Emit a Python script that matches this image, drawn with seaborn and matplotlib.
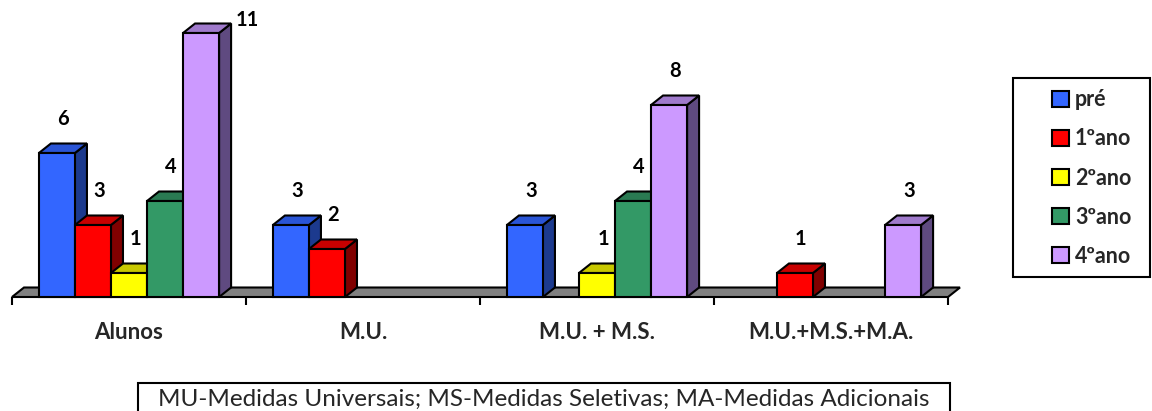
import numpy as np
import pandas as pd
import matplotlib
matplotlib.use("Agg")
import matplotlib.pyplot as plt
from matplotlib.patches import Polygon, Rectangle, Patch
import seaborn as sns

# Number of students per group and school year
categories = ["Alunos", "M.U.", "M.U. + M.S.", "M.U.+M.S.+M.A."]
series = ["pré", "1ºano", "2ºano", "3ºano", "4ºano"]
pre = [6, 3, 3, 0]
ano1 = [3, 2, 0, 1]
ano2 = [1, 0, 1, 0]
ano3 = [4, 0, 4, 0]
ano4 = [11, 0, 8, 3]
caption = "MU-Medidas Universais; MS-Medidas Seletivas; MA-Medidas Adicionais"

front_colors = ["#3366FF", "#FF0000", "#FFFF00", "#339966", "#CC99FF"]
side_colors = ["#1C3A8E", "#800000", "#808000", "#1F5C3D", "#5F4A80"]
top_colors = ["#2A55D6", "#C80000", "#C8C800", "#2A7A52", "#A07ACC"]

rows = []
for name, vals in zip(series, [pre, ano1, ano2, ano3, ano4]):
    for cat, v in zip(categories, vals):
        rows.append({"grupo": cat, "ano": name, "valor": v})
df = pd.DataFrame(rows)

sns.set_theme(style="white")
plt.rcParams["font.family"] = ["Lato", "DejaVu Sans"]

W, H = 1152, 411
fig = plt.figure(figsize=(W / 100, H / 100), dpi=100)
# axes: floor front edge from x=12 to 948 px, 24 px per unit
ax = fig.add_axes([12 / W, (H - 297) / H, 936 / W, 288 / H])

sns.barplot(data=df, x="grupo", y="valor", hue="ano", order=categories,
            hue_order=series, palette=front_colors, saturation=1,
            width=0.77, edgecolor="black", linewidth=1.5, legend=False, ax=ax)

ax.set_xlim(-0.5, 3.5)
ax.set_ylim(0, 12)

# depth offset of the 3D look, converted from pixels to data units
px_x = 936 / 4.0
px_y = 288 / 12.0
dx = 12 / px_x
dy = 9.5 / px_y

# floor slab
floor = Polygon([(-0.5, 0), (3.5, 0), (3.5 + dx, dy), (-0.5 + dx, dy)],
                closed=True, facecolor="#808080", edgecolor="black",
                linewidth=1.5, zorder=1, clip_on=False)
ax.add_patch(floor)

bars = []
for s_idx, cont in enumerate(ax.containers):
    for bar in cont:
        bars.append((bar.get_x(), s_idx, bar))
bars.sort(key=lambda t: t[0])

for i, (x0, s_idx, bar) in enumerate(bars):
    h = bar.get_height()
    if h <= 0:
        bar.set_visible(False)
        continue
    w = bar.get_width()
    z = 3 + 3 * i
    side = Polygon([(x0 + w, 0), (x0 + w + dx, dy), (x0 + w + dx, h + dy), (x0 + w, h)],
                   closed=True, facecolor=side_colors[s_idx], edgecolor="black",
                   linewidth=1.5, zorder=z, clip_on=False, joinstyle="miter")
    top = Polygon([(x0, h), (x0 + dx, h + dy), (x0 + w + dx, h + dy), (x0 + w, h)],
                  closed=True, facecolor=top_colors[s_idx], edgecolor="black",
                  linewidth=1.5, zorder=z + 1, clip_on=False, joinstyle="miter")
    ax.add_patch(side)
    ax.add_patch(top)
    bar.set_zorder(z + 2)
    bar.set_clip_on(False)

    # value label
    if h + 1.4 > 11.5:
        ax.text(x0 + w + dx + 0.02, h + dy + 0.15, f"{h:g}", ha="left", va="center",
                fontsize=14.5, fontweight="bold", color="black", zorder=100)
    else:
        ax.text(x0 + w / 2 + dx / 2, h + 1.4, f"{h:g}", ha="center", va="center",
                fontsize=14.5, fontweight="bold", color="black", zorder=100)

for sp in ax.spines.values():
    sp.set_visible(False)
ax.set_xlabel("")
ax.set_ylabel("")
ax.set_yticks([])
ax.set_xticks(range(len(categories)))
ax.set_xticklabels(categories, fontsize=16, fontweight="bold")
ax.set_xticks(np.arange(-0.5, 4.0, 1.0), minor=True)
ax.tick_params(axis="x", which="major", length=0, pad=18)
ax.tick_params(axis="x", which="minor", length=6, width=1.5, color="black",
               direction="out", bottom=True)

# legend
handles = [Patch(facecolor=c, edgecolor="black", linewidth=1.5) for c in front_colors]
fig.legend(handles, series, loc="upper left",
           bbox_to_anchor=(1033 / W, (H - 70) / H), frameon=False,
           handlelength=0.75, handleheight=0.75, handletextpad=0.3,
           labelspacing=0.84, prop={"weight": "bold", "size": 15.5})
fig.patches.append(Rectangle((1013 / W, (H - 277) / H), 137 / W, 199 / H,
                             transform=fig.transFigure, fill=False,
                             edgecolor="black", linewidth=1.5))

# caption box
fig.patches.append(Rectangle((138 / W, -20 / H), 812 / W, (H - 383 + 20) / H,
                             transform=fig.transFigure, fill=False,
                             edgecolor="black", linewidth=1.5))
fig.text((138 + 950) / 2 / W, (H - 406) / H, caption, ha="center", va="baseline",
         fontsize=17.5)

fig.savefig("out.png", dpi=100)
